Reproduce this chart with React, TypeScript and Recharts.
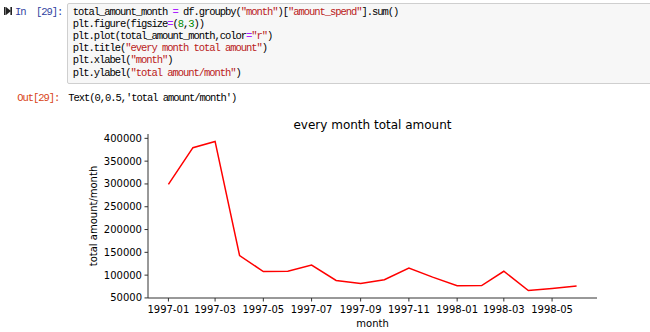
import { Line, LineChart, XAxis, YAxis, Label } from "recharts";

const months = [
  "1997-01", "1997-02", "1997-03", "1997-04", "1997-05", "1997-06",
  "1997-07", "1997-08", "1997-09", "1997-10", "1997-11", "1997-12",
  "1998-01", "1998-02", "1998-03", "1998-04", "1998-05", "1998-06",
];
const amounts = [
  299100, 379600, 393200, 142800, 107900, 108400,
  122200, 88400, 81900, 89800, 115400, 95600,
  76800, 77100, 108500, 66200, 70900, 76100,
];
const tickMonths = [
  "1997-01", "1997-03", "1997-05", "1997-07", "1997-09",
  "1997-11", "1998-01", "1998-03", "1998-05",
];
const yTicks = [50000, 100000, 150000, 200000, 250000, 300000, 350000, 400000];

const codeLines: [string, string][][] = [
  [["total_amount_month ", ""], ["=", "#AA22FF"], [" df.groupby(", ""], ['"month"', "#BA2121"], [")[", ""], ['"amount_spend"', "#BA2121"], ["].sum()", ""]],
  [["plt.figure(figsize", ""], ["=", "#AA22FF"], ["(", ""], ["8", "#008800"], [",", ""], ["3", "#008800"], ["))", ""]],
  [["plt.plot(total_amount_month,color", ""], ["=", "#AA22FF"], ['"r"', "#BA2121"], [")", ""]],
  [["plt.title(", ""], ['"every month total amount"', "#BA2121"], [")", ""]],
  [["plt.xlabel(", ""], ['"month"', "#BA2121"], [")", ""]],
  [["plt.ylabel(", ""], ['"total amount/month"', "#BA2121"], [")", ""]],
];

// days since 1997-01-01 so months get their real spacing, like matplotlib dates
const toDay = (m: string) => {
  const [y, mo] = m.split("-").map(Number);
  return (Date.UTC(y, mo - 1, 1) - Date.UTC(1997, 0, 1)) / 86400000;
};

const data = months.map((m, i) => ({ day: toDay(m), amount: amounts[i] }));
const xTicks = tickMonths.map(toDay);
const dayLabel: Record<number, string> = {};
tickMonths.forEach((m) => (dayLabel[toDay(m)] = m));

const xMin = data[0].day;
const xMax = data[data.length - 1].day;
const xPad = (xMax - xMin) * 0.05;
const yMin = Math.min(...amounts);
const yMax = Math.max(...amounts);
const yPad = (yMax - yMin) * 0.05;
const xDomain = [xMin - xPad, xMax + xPad];
const yDomain = [yMin - yPad, yMax + yPad];

const mono = {
  fontFamily: "'Liberation Mono', monospace",
  fontSize: 10.5,
  letterSpacing: -1.05,
  lineHeight: "12.2px",
  whiteSpace: "pre" as const,
  color: "#000",
};
const sans = "'DejaVu Sans', sans-serif";
const tickStyle = { fontSize: 10, fill: "#000", fontFamily: sans };
const spine = { stroke: "#333", strokeWidth: 1 };

export default function App() {
  return (
    <div style={{ position: "absolute", left: 0, top: 0, width: 650, height: 332, background: "#fff", overflow: "hidden" }}>
      <svg style={{ position: "absolute", left: 4, top: 7 }} width={8} height={8}>
        <rect x={0} y={0} width={1.6} height={8} fill="#222" />
        <polygon points="2,0 7,4 2,8" fill="#222" />
        <rect x={6.4} y={0} width={1.6} height={8} fill="#222" />
      </svg>
      <div style={{ ...mono, position: "absolute", left: 15, top: 5.6, color: "#303F9F" }}>In  [29]:</div>
      <div
        style={{
          position: "absolute",
          left: 67,
          top: 3,
          width: 600,
          height: 79,
          background: "#f7f7f7",
          border: "1px solid #cfcfcf",
          borderRadius: 2,
        }}
      />
      <div style={{ ...mono, position: "absolute", left: 72.7, top: 5.6 }}>
        {codeLines.map((line, i) => (
          <div key={i}>
            {line.map(([t, c], j) => (
              <span key={j} style={c ? { color: c } : undefined}>{t}</span>
            ))}
          </div>
        ))}
      </div>
      <div style={{ ...mono, position: "absolute", left: 17.3, top: 92.4, color: "#D84315" }}>Out[29]:</div>
      <div style={{ ...mono, position: "absolute", left: 68.3, top: 92.4 }}>Text(0,0.5,'total amount/month')</div>

      <div style={{ position: "absolute", left: 0, top: 110, width: 650, height: 222 }}>
        <LineChart width={650} height={222} data={data} margin={{ top: 24, right: 53, bottom: 0, left: 0 }}>
          <XAxis
            xAxisId="b"
            type="number"
            dataKey="day"
            domain={xDomain}
            ticks={xTicks}
            tickFormatter={(d: number) => dayLabel[d] ?? ""}
            interval={0}
            height={34}
            tickSize={3.5}
            tickMargin={4.5}
            tick={tickStyle}
            axisLine={spine}
            tickLine={spine}
          >
            <Label value="month" position="insideBottom" offset={5.5} style={{ fontSize: 10, fill: "#000", fontFamily: sans }} />
          </XAxis>
          <XAxis xAxisId="t" orientation="top" type="number" domain={xDomain} height={0} tick={false} tickLine={false} axisLine={spine} />
          <YAxis
            yAxisId="l"
            type="number"
            domain={yDomain}
            ticks={yTicks}
            interval={0}
            width={148}
            tickSize={3.5}
            tickMargin={2.5}
            tick={tickStyle}
            axisLine={spine}
            tickLine={spine}
          />
          <YAxis yAxisId="r" orientation="right" type="number" domain={yDomain} width={0} tick={false} tickLine={false} axisLine={spine} />
          <Line
            xAxisId="b"
            yAxisId="l"
            type="linear"
            dataKey="amount"
            stroke="#ff0000"
            strokeWidth={1.5}
            dot={false}
            isAnimationActive={false}
          />
        </LineChart>
        <div
          style={{
            position: "absolute",
            left: 148,
            width: 449,
            top: 8,
            textAlign: "center",
            fontFamily: sans,
            fontSize: 12,
            lineHeight: "14px",
            color: "#000",
          }}
        >
          every month total amount
        </div>
        <div
          style={{
            position: "absolute",
            left: 94,
            top: 106,
            transform: "translate(-50%, -50%) rotate(-90deg)",
            fontFamily: sans,
            fontSize: 10,
            lineHeight: "12px",
            whiteSpace: "nowrap",
            color: "#000",
          }}
        >
          total amount/month
        </div>
      </div>
    </div>
  );
}
